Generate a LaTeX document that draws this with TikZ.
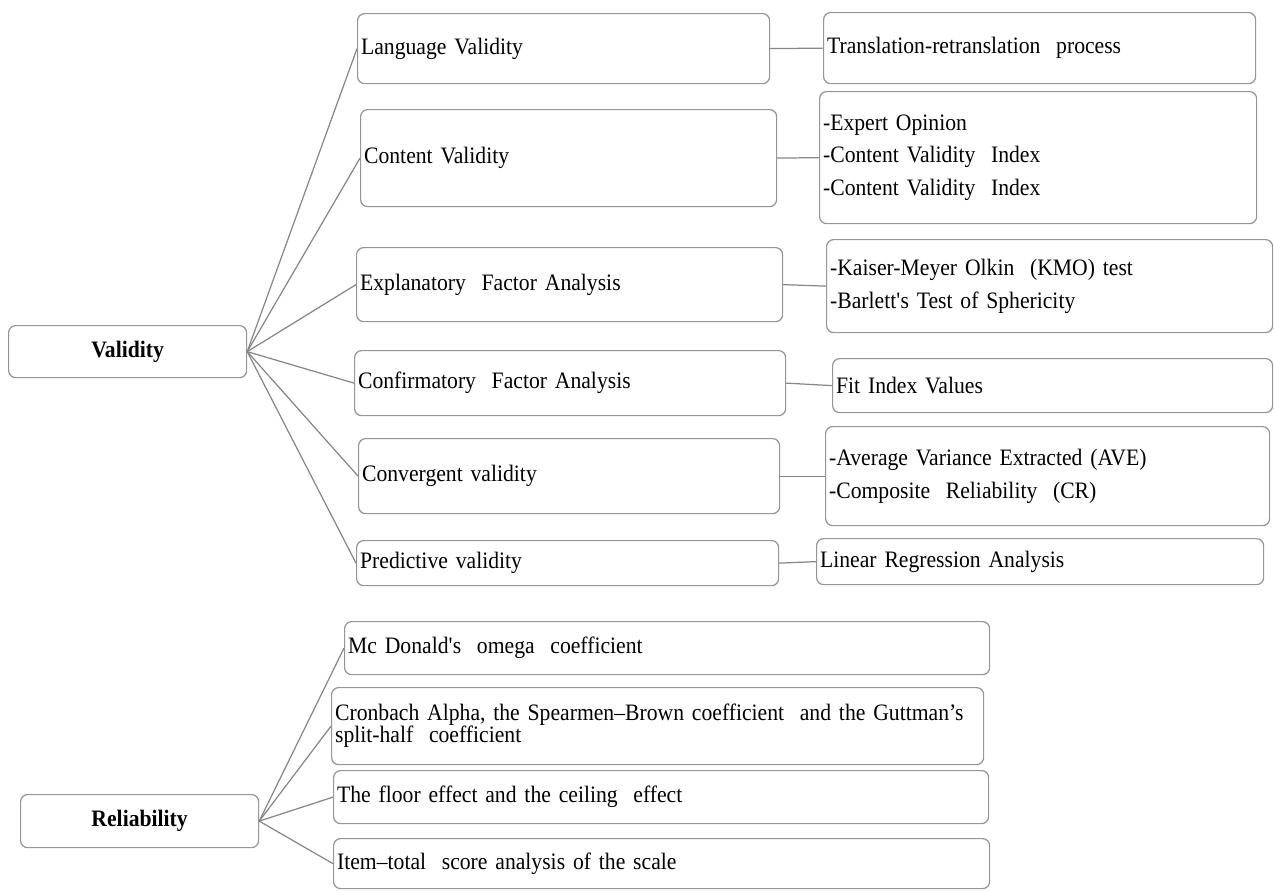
\documentclass[tikz,border=0pt]{standalone}
\usepackage{fontspec}
\setmainfont{Liberation Serif}[FakeStretch=0.92]
\definecolor{boxgray}{RGB}{150,150,150}
\definecolor{linegray}{RGB}{135,135,135}

\begin{document}
\begin{tikzpicture}[
    x = 0.02cm,
    y = -0.02cm,
    line width = 0.7pt,
    box/.style 2 args = {
      draw = boxgray,
      rounded corners = 4pt,
      anchor = north west,
      align = left,
      inner xsep = 2pt,
      inner ysep = 0pt,
      font = \fontsize{13.4}{18.5}\selectfont,
      minimum width = #1*0.02cm,
      text width = #1*0.02cm-4pt,
      minimum height = #2*0.02cm
    },
    root/.style 2 args = {
      box = {#1}{#2},
      align = center,
      font = \fontsize{13.4}{16}\selectfont\bfseries
    },
    link/.style = {
      draw = linegray
    }
  ]
  \useasboundingbox (0,0) rectangle (1274,890);

  \node[root = {238}{52}] (valid) at (8,325) {Validity};
  \node[root = {238}{53}] (rel) at (20,794) {Reliability};

  \node[box = {412}{70}] (lang) at (357,13) {Language Validity};
  \node[box = {416}{97}] (cont) at (360,109) {Content Validity};
  \node[box = {426}{74}] (expl) at (356,247) {Explanatory\ \ Factor Analysis};
  \node[box = {431}{65}] (conf) at (354,350) {Confirmatory\ \ Factor Analysis};
  \node[box = {421}{75}] (conv) at (358,438) {Convergent validity};
  \node[box = {422}{45}] (pred) at (356,540) {Predictive validity};

  \node[box = {432}{71}] (trans) at (823,12) {Translation-retranslation\ \ process};
  \node[box = {437}{132}] (expert) at (819,91) {-Expert Opinion\\-Content Validity\ \ Index\\-Content Validity\ \ Index};
  \node[box = {446}{93}] (kmo) at (826,239) {-Kaiser-Meyer Olkin\ \ (KMO) test\\-Barlett\textquotesingle s Test of Sphericity};
  \node[box = {440}{54}] (fit) at (832,358) {Fit Index Values};
  \node[box = {444}{99}] (ave) at (825,426) {-Average Variance Extracted (AVE)\\-Composite\ \ Reliability\ \ (CR)};
  \node[box = {447}{46}] (linreg) at (816,538) {Linear Regression Analysis};

  \node[box = {645}{53}] (omega) at (344,621) {Mc Donald\textquotesingle s\ \ omega\ \ coefficient};
  \node[box = {652}{77}, font = \fontsize{13.4}{12.5}\selectfont] (cronb) at (331,687) {Cronbach Alpha, the Spearmen--Brown coefficient\ \ and the Guttman's\\split-half\ \ coefficient};
  \node[box = {655}{53}] (floor) at (333,770) {The floor effect and the ceiling\ \ effect};
  \node[box = {656}{50}] (itemtot) at (333,838) {Item--total\ \ score analysis of the scale};

  \draw[link] (valid.east) -- (lang.west);
  \draw[link] (valid.east) -- (cont.west);
  \draw[link] (valid.east) -- (expl.west);
  \draw[link] (valid.east) -- (conf.west);
  \draw[link] (valid.east) -- (conv.west);
  \draw[link] (valid.east) -- (pred.west);

  \draw[link] (lang.east) -- (trans.west);
  \draw[link] (cont.east) -- (expert.west);
  \draw[link] (expl.east) -- (kmo.west);
  \draw[link] (conf.east) -- (fit.west);
  \draw[link] (conv.east) -- (ave.west);
  \draw[link] (pred.east) -- (linreg.west);

  \draw[link] (rel.east) -- (omega.west);
  \draw[link] (rel.east) -- (cronb.west);
  \draw[link] (rel.east) -- (floor.west);
  \draw[link] (rel.east) -- (itemtot.west);

\end{tikzpicture}
\end{document}
